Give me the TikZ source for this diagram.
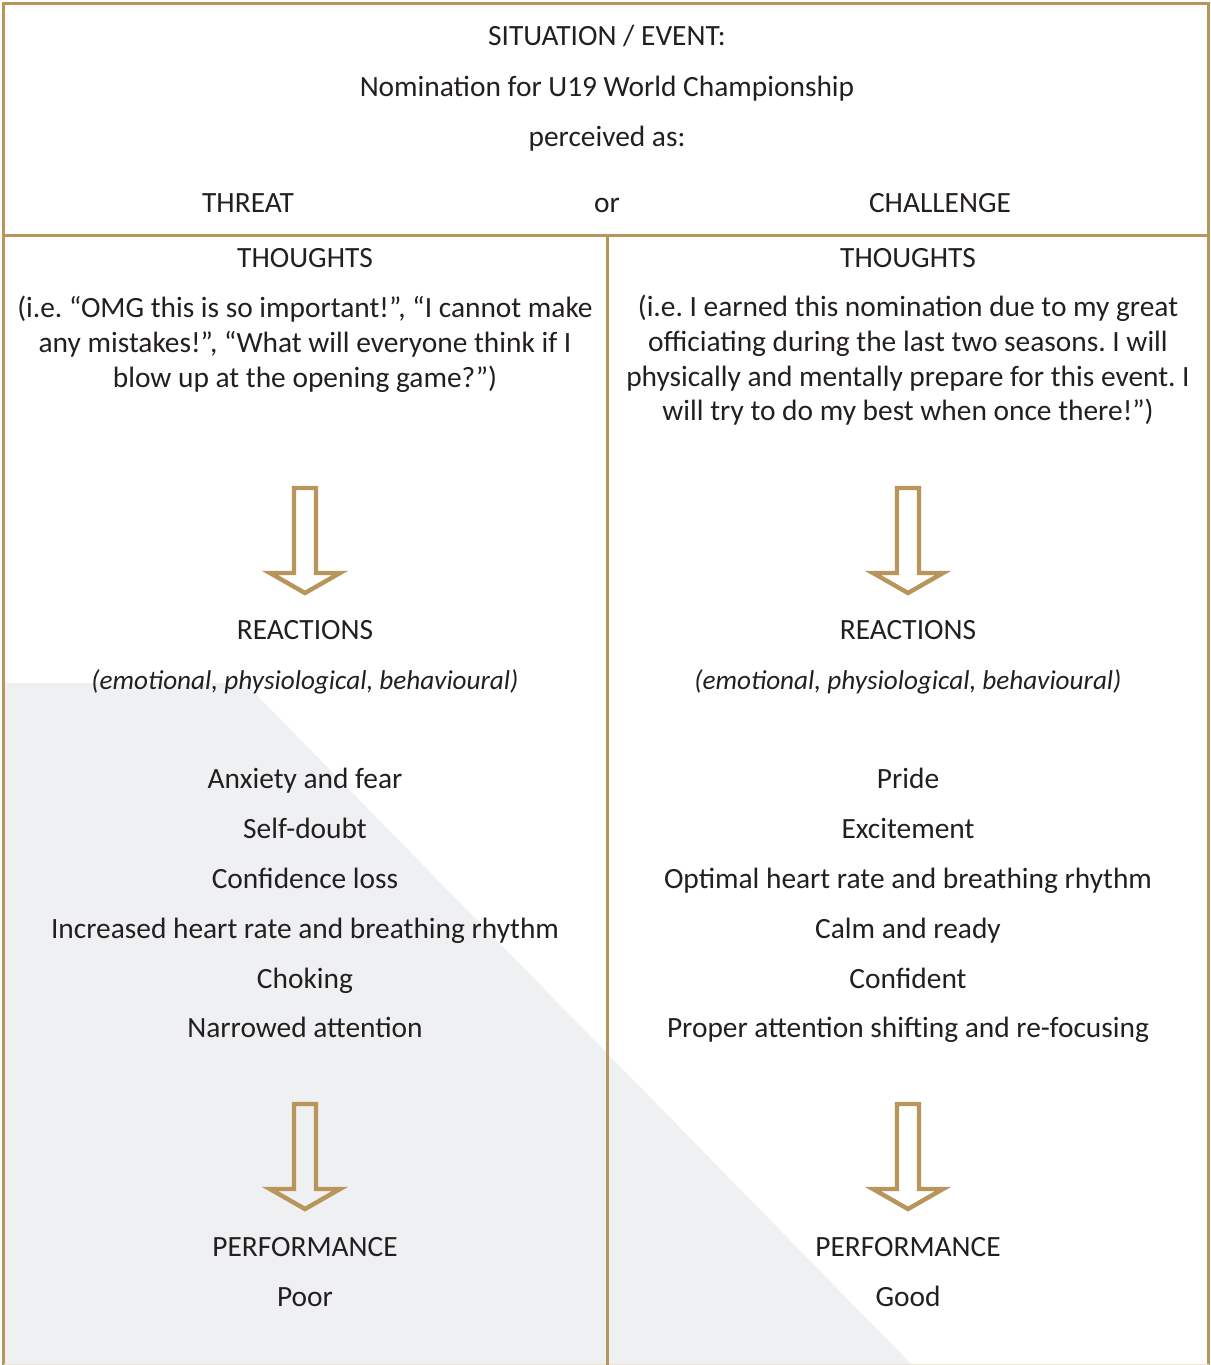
\documentclass[tikz,border=0pt]{standalone}
\usepackage{fontspec}
\setmainfont{Carlito}
\usetikzlibrary{positioning}
\definecolor{gold}{RGB}{184,149,90}
\definecolor{paleGray}{RGB}{239,240,242}
\definecolor{inkGray}{RGB}{35,31,32}
\frenchspacing
\tikzstyle{txt}=[%
      inner sep=0pt, anchor=base, text=inkGray,
      font=\fontsize{14.7pt}{17.5pt}\selectfont
]
\tikzstyle{kind}=[%
      txt, font=\fontsize{13.6pt}{17.5pt}\selectfont\itshape
]
\tikzstyle{rule}=[%
      draw=gold, line width=1.5pt
]
\tikzset{
  downarrow/.pic={
    \draw[gold, line width=2.2pt, line join=miter]
      (-11,0) -- (11,0) -- (11,85) -- (35,85) -- (0,105) -- (-35,85) -- (-11,85) -- cycle;
  }
}

\begin{document}
\begin{tikzpicture}[x=0.5pt, y=-0.5pt]
    \useasboundingbox (0,0) rectangle (1210,1365);

    % shaded corner
    \fill[paleGray] (4,683) -- (245,683) -- (912,1365) -- (4,1365) -- cycle;

    % frame
    \draw[rule] (3.5,1365) -- (3.5,3.5) -- (1208.5,3.5) -- (1208.5,1365);
    \draw[draw=gold!25, line width=1pt] (3.5,1364.5) -- (1208.5,1364.5);
    \draw[rule] (3.5,235) -- (1208.5,235);
    \draw[rule] (607,235) -- (607,1365);

    % header
    \node[txt] (sit)   at (607,46)  {SITUATION / EVENT:};
    \node[txt] (nom)   at (607,96)  {Nomination for U19 World Championship};
    \node[txt] (perc)  at (607,146) {perceived as:};
    \node[txt] (threat) at (248,212) {THREAT};
    \node[txt] (or)     at (607,212) {or};
    \node[txt] (chall)  at (940,212) {CHALLENGE};

    % threat side
    \node[txt] (tthought) at (305,267) {THOUGHTS};
    \foreach \line [count=\i] in {{(i.e. “OMG this is so important!”, “I cannot make}, {any mistakes!”, “What will everyone think if I}, {blow up at the opening game?”)}}
      \node[txt] (tpara\i) at (305,282+35*\i) {\line};
    \pic at (305,488) {downarrow};
    \node[txt] (treact) at (305,639) {REACTIONS};
    \node[kind] (tkind) at (305,689) {(emotional, physiological, behavioural)};
    \foreach \item [count=\i] in {Anxiety and fear, Self-doubt, Confidence loss, Increased heart rate and breathing rhythm, Choking, Narrowed attention}
      \node[txt] (tlist\i) at (305,739+49.8*\i) {\item};
    \pic at (305,1104) {downarrow};
    \node[txt] (tperf) at (305,1256) {PERFORMANCE};
    \node[txt] (poor)  at (305,1306) {Poor};

    % challenge side
    \node[txt] (cthought) at (908,267) {THOUGHTS};
    \foreach \line [count=\i] in {{(i.e. I earned this nomination due to my great}, {officiating during the last two seasons. I will}, {physically and mentally prepare for this event. I}, {will try to do my best when once there!”)}}
      \node[txt] (cpara\i) at (908,282+34.7*\i) {\line};
    \pic at (908,488) {downarrow};
    \node[txt] (creact) at (908,639) {REACTIONS};
    \node[kind] (ckind) at (908,689) {(emotional, physiological, behavioural)};
    \foreach \item [count=\i] in {Pride, Excitement, Optimal heart rate and breathing rhythm, Calm and ready, Confident, Proper attention shifting and re-focusing}
      \node[txt] (clist\i) at (908,739+49.8*\i) {\item};
    \pic at (908,1104) {downarrow};
    \node[txt] (cperf) at (908,1256) {PERFORMANCE};
    \node[txt] (good)  at (908,1306) {Good};

\end{tikzpicture}
\end{document}
